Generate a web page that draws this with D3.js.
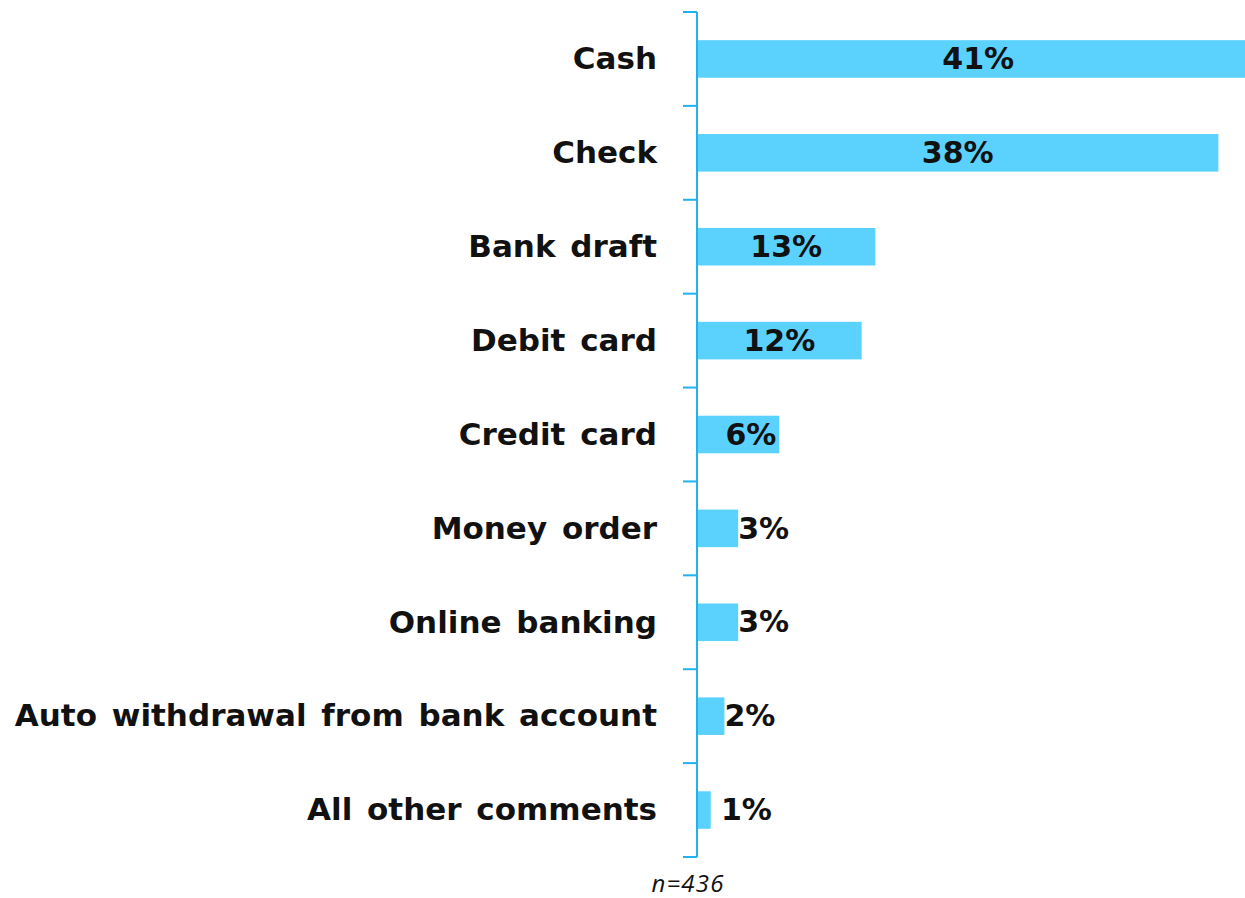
<!DOCTYPE html>
<html>
<head>
<meta charset="utf-8">
<script src="https://cdn.jsdelivr.net/npm/d3@7"></script>
<style>
  html, body { margin: 0; padding: 0; background: #ffffff; }
  svg { display: block; }
</style>
</head>
<body>
<svg id="chart" width="1245" height="898"></svg>
<script>
// Payment methods and share of respondents (%)
const categories = [
  "Cash",
  "Check",
  "Bank draft",
  "Debit card",
  "Credit card",
  "Money order",
  "Online banking",
  "Auto withdrawal from bank account",
  "All other comments"
];
const values = [41, 38, 13, 12, 6, 3, 3, 2, 1];
const sampleNote = "n=436";

const axisX = 697;
const plotTop = 12, plotBottom = 857;
const barColor = "#5bd1fe";
const axisColor = "#20b2ef";
const labelFont = "'DejaVu Sans', 'Open Sans', sans-serif";

const svg = d3.select("#chart");

const y = d3.scaleBand()
  .domain(categories)
  .range([plotTop, plotBottom])
  .paddingInner(0.6)
  .paddingOuter(0.3);

const x = d3.scaleLinear()
  .domain([0, 41])
  .range([axisX, axisX + 41 * 13.72]);

const rows = categories.map((c, i) => ({ cat: c, val: values[i] }));

// bars
svg.append("g").selectAll("rect")
  .data(rows)
  .join("rect")
  .attr("x", x(0))
  .attr("y", d => y(d.cat))
  .attr("width", d => x(d.val) - x(0))
  .attr("height", y.bandwidth())
  .attr("fill", barColor);

// category axis: line with ticks between bands
const axis = svg.append("g");
axis.append("line")
  .attr("x1", axisX).attr("x2", axisX)
  .attr("y1", plotTop).attr("y2", plotBottom)
  .attr("stroke", axisColor).attr("stroke-width", 2);
const boundaries = d3.range(categories.length + 1).map(i => plotTop + i * y.step());
axis.selectAll("line.tick")
  .data(boundaries)
  .join("line")
  .attr("class", "tick")
  .attr("x1", axisX - 14).attr("x2", axisX)
  .attr("y1", d => d).attr("y2", d => d)
  .attr("stroke", axisColor).attr("stroke-width", 2);

// category labels
svg.append("g").selectAll("text")
  .data(rows)
  .join("text")
  .attr("x", 657)
  .attr("y", d => y(d.cat) + y.bandwidth() / 2)
  .attr("dy", "0.33em")
  .attr("text-anchor", "end")
  .attr("font-family", labelFont)
  .attr("font-weight", 700)
  .attr("font-size", 31)
  .attr("word-spacing", 4)
  .attr("fill", "#111")
  .text(d => d.cat);

// value labels: centred in wide bars, inside end for medium, outside for narrow
svg.append("g").selectAll("text")
  .data(rows)
  .join("text")
  .attr("y", d => y(d.cat) + y.bandwidth() / 2)
  .attr("dy", "0.34em")
  .attr("font-family", labelFont)
  .attr("font-weight", 700)
  .attr("font-size", 30)
  .attr("fill", "#111")
  .text(d => d.val + "%")
  .each(function(d) {
    const w = x(d.val) - x(0);
    const sel = d3.select(this);
    if (w >= 120) {
      sel.attr("x", (x(0) + x(d.val)) / 2).attr("text-anchor", "middle");
    } else if (w >= 70) {
      sel.attr("x", x(d.val) - 3).attr("text-anchor", "end");
    } else {
      sel.attr("x", Math.max(x(d.val), x(0) + 24)).attr("text-anchor", "start");
    }
  });

// sample size note
svg.append("text")
  .attr("x", 688)
  .attr("y", 892)
  .attr("text-anchor", "middle")
  .attr("font-family", "'Open Sans', sans-serif")
  .attr("font-style", "italic")
  .attr("font-size", 24)
  .attr("letter-spacing", 1.2)
  .attr("fill", "#111")
  .text(sampleNote);
</script>
</body>
</html>
